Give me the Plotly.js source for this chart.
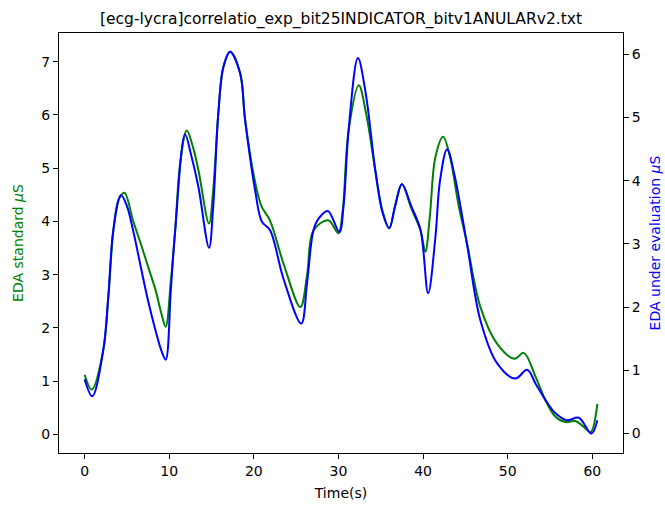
<!DOCTYPE html>
<html>
<head>
<meta charset="utf-8">
<script src="https://cdn.plot.ly/plotly-3.0.1.min.js"></script>
<style>html,body{margin:0;padding:0;background:#fff;}#chart{width:665px;height:507px;}</style>
</head>
<body>
<div id="chart"></div>
<script>
// Time (s) and values for the standard EDA sensor (left axis, green)
var timeStandard = [0.0, 0.85, 2.2, 2.8, 3.4, 4.0, 4.7, 5.75, 6.6, 7.5, 8.4, 9.1, 9.58, 10.2, 10.7, 11.3, 12.07, 12.8, 13.45, 14.7, 15.2, 15.8, 16.4, 17.2, 18.38, 18.97, 20.35, 20.95, 21.9, 23.5, 25.5, 26.3, 27.05, 28.8, 30.0, 30.5, 31.2, 32.4, 33.3, 34.35, 35.2, 36.0, 36.7, 37.5, 38.6, 39.7, 40.27, 40.8, 41.46, 42.37, 43.2, 44.2, 45.2, 46.78, 48.76, 50.8, 51.9, 53.3, 54.47, 55.65, 56.83, 58.0, 59.0, 59.8, 60.6];
var edaStandard = [1.12, 0.84, 1.58, 2.58, 3.83, 4.40, 4.54, 4.0, 3.6, 3.15, 2.7, 2.25, 2.02, 2.9, 3.83, 5.1, 5.71, 5.4, 4.96, 3.96, 4.6, 6.03, 6.9, 7.19, 6.78, 5.9, 4.59, 4.27, 4.02, 3.21, 2.39, 3.0, 3.83, 4.02, 3.78, 4.2, 5.71, 6.56, 6.0, 4.96, 4.2, 3.87, 4.3, 4.70, 4.25, 3.83, 3.43, 4.1, 5.21, 5.59, 5.2, 4.3, 3.58, 2.39, 1.70, 1.42, 1.53, 1.08, 0.64, 0.33, 0.23, 0.25, 0.14, 0.04, 0.57];

// Time (s) and values for the EDA sensor under evaluation (right axis, blue)
var timeEval = [0.0, 0.9, 2.2, 2.8, 3.4, 4.3, 5.0, 5.75, 6.6, 7.5, 8.4, 9.1, 9.58, 10.2, 10.7, 11.87, 12.6, 13.45, 14.7, 15.2, 15.8, 16.4, 17.2, 18.38, 18.97, 20.15, 20.95, 21.9, 23.5, 25.6, 26.3, 27.05, 27.65, 28.75, 30.1, 30.6, 31.2, 32.3, 33.2, 34.35, 35.2, 36.0, 36.7, 37.5, 38.6, 39.7, 40.6, 41.46, 42.0, 42.84, 43.7, 45.2, 46.78, 48.76, 50.9, 52.3, 53.3, 54.47, 55.65, 57.0, 58.4, 59.9, 60.6];
var edaEval = [0.86, 0.59, 1.32, 2.17, 3.23, 3.77, 3.6, 3.2, 2.66, 2.1, 1.62, 1.3, 1.17, 2.3, 3.21, 4.73, 4.4, 3.9, 2.94, 3.6, 5.07, 5.8, 6.04, 5.70, 4.96, 3.85, 3.35, 3.22, 2.45, 1.74, 2.4, 3.22, 3.40, 3.52, 3.19, 3.6, 4.80, 5.94, 5.4, 4.17, 3.5, 3.25, 3.6, 3.95, 3.6, 3.22, 2.22, 3.11, 4.0, 4.50, 4.1, 2.99, 1.79, 1.11, 0.87, 1.01, 0.79, 0.53, 0.32, 0.21, 0.25, 0.0, 0.21];

var xTicks = [0, 10, 20, 30, 40, 50, 60];
var yLeftTicks = [0, 1, 2, 3, 4, 5, 6, 7];
var yRightTicks = [0, 1, 2, 3, 4, 5, 6];

var FONT = 'DejaVu Sans, sans-serif';

var traces = [
  {x: timeStandard, y: edaStandard, type: 'scatter', mode: 'lines',
   line: {color: '#008000', width: 2, shape: 'spline', smoothing: 1}, yaxis: 'y', hoverinfo: 'x+y'},
  {x: timeEval, y: edaEval, type: 'scatter', mode: 'lines',
   line: {color: '#0000ff', width: 2, shape: 'spline', smoothing: 1}, yaxis: 'y2', hoverinfo: 'x+y'}
];

var layout = {
  width: 665, height: 507,
  margin: {l: 59, r: 42, t: 33, b: 54, pad: 0},
  paper_bgcolor: '#ffffff', plot_bgcolor: '#ffffff',
  showlegend: false,
  font: {family: FONT, size: 14, color: '#000'},
  title: {text: '[ecg-lycra]correlatio_exp_bit25INDICATOR_bitv1ANULARv2.txt',
          font: {family: FONT, size: 15.5, color: '#000'},
          x: 0.5, xanchor: 'center', xref: 'paper',
          y: 1 - 19/507, yanchor: 'middle', yref: 'container'},
  xaxis: {range: [-3.03, 63.63], tickvals: xTicks, ticktext: xTicks.map(String),
          ticks: 'outside', ticklen: 5, tickwidth: 1, tickcolor: '#000',
          showline: true, linecolor: '#000', linewidth: 1, mirror: true,
          showgrid: false, zeroline: false,
          tickfont: {family: FONT, size: 14, color: '#000'},
          title: {text: 'Time(s)', font: {family: FONT, size: 14, color: '#000'}, standoff: 10}},
  yaxis: {range: [-0.351, 7.54], tickvals: yLeftTicks, ticktext: yLeftTicks.map(String),
          ticks: 'outside', ticklen: 5, tickwidth: 1, tickcolor: '#000',
          showline: true, linecolor: '#000', linewidth: 1, mirror: false,
          showgrid: false, zeroline: false,
          tickfont: {family: FONT, size: 14, color: '#000'},
          title: {text: 'EDA standard <i>μ</i>S', font: {family: FONT, size: 14, color: '#008000'}, standoff: 14}},
  yaxis2: {range: [-0.307, 6.337], tickvals: yRightTicks, ticktext: yRightTicks.map(String),
           overlaying: 'y', side: 'right',
           ticks: 'outside', ticklen: 5, tickwidth: 1, tickcolor: '#000',
           showline: true, linecolor: '#000', linewidth: 1,
           showgrid: false, zeroline: false,
           tickfont: {family: FONT, size: 14, color: '#000'},
           title: {text: 'EDA under evaluation <i>μ</i>S', font: {family: FONT, size: 14, color: '#0000ff'}, standoff: 10}}
};

Plotly.newPlot('chart', traces, layout, {displayModeBar: false, staticPlot: true});
</script>
</body>
</html>
